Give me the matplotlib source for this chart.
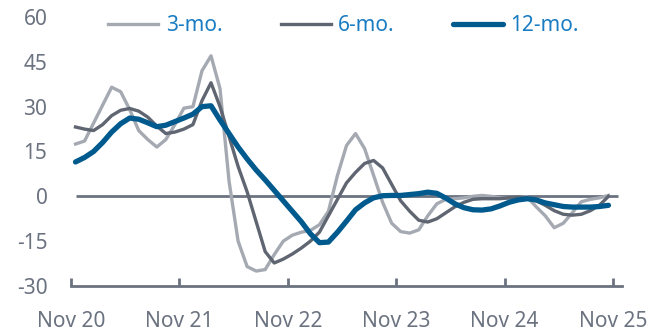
import numpy as np
import matplotlib
matplotlib.use("Agg")
import matplotlib.pyplot as plt

plt.rcParams['font.family'] = ['Noto Sans', 'DejaVu Sans']
plt.rcParams['axes.unicode_minus'] = False

# monthly readings, Dec 20 .. Nov 25
mo3 = [17.5, 18.5, 24.5, 30.5, 36.5, 35.0, 29.0, 22.0, 19.0, 16.5,
       19.0, 24.0, 29.5, 30.0, 42.0, 47.0, 36.0, 5.0, -15.0, -23.5,
       -25.0, -24.5, -19.5, -15.0, -13.0, -12.0, -11.4, -9.5, -5.0, 7.0,
       17.0, 21.0, 16.0, 7.0, -2.0, -9.0, -11.8, -12.3, -11.2, -6.5,
       -2.5, -1.0, -0.8, -0.5, 0.0, 0.3, 0.0, -0.5, -0.7, -0.5,
       -0.2, -3.5, -6.5, -10.5, -9.0, -5.5, -1.8, -1.0, -0.5, 0.3]
mo6 = [23.2, 22.5, 22.0, 24.0, 27.0, 28.8, 29.4, 28.5, 26.5, 23.5,
       21.0, 21.5, 22.5, 24.0, 32.0, 38.0, 30.0, 20.0, 10.0, 1.5,
       -8.5, -18.5, -22.3, -21.0, -19.3, -17.3, -15.0, -12.0, -6.5, -1.0,
       4.5, 8.0, 11.0, 12.0, 9.5, 4.0, -1.5, -5.0, -8.0, -8.6,
       -7.5, -5.5, -3.5, -2.0, -1.0, -0.8, -0.8, -0.8, -0.5, -0.3,
       -0.6, -1.5, -3.0, -4.8, -6.0, -6.3, -6.0, -4.8, -3.0, 0.0]
mo12 = [11.5, 13.0, 15.0, 18.0, 21.5, 24.3, 26.2, 25.8, 24.6, 23.3,
        23.8, 25.0, 26.2, 27.5, 30.0, 30.3, 25.5, 21.0, 16.5, 12.5,
        8.8, 5.5, 2.0, -1.5, -5.0, -8.5, -12.5, -15.5, -15.3, -12.0,
        -8.3, -4.5, -2.2, -0.5, 0.2, 0.3, 0.3, 0.6, 0.9, 1.4,
        1.0, -0.6, -2.5, -3.8, -4.5, -4.6, -4.2, -3.2, -2.0, -1.2,
        -0.8, -1.2, -2.2, -2.8, -3.4, -3.6, -3.6, -3.6, -3.4, -3.0]
xlabels = ['Nov 20', 'Nov 21', 'Nov 22', 'Nov 23', 'Nov 24', 'Nov 25']
yticks = [-30, -15, 0, 15, 30, 45, 60]

grey = '#6b7280'
x = np.arange(len(mo3)) + 0.5

fig = plt.figure(figsize=(6.69, 3.35), dpi=100)
ax = fig.add_axes([71 / 669, 49 / 335, 551 / 669, 269 / 335])

ax.hlines(0, 0.5, 60.6, color=grey, lw=2, zorder=1)
ax.plot(x, mo3, color='#a4a9b2', lw=2.4, label='3-mo.', zorder=2)
ax.plot(x, mo6, color='#5f6571', lw=2.4, label='6-mo.', zorder=3)
ax.plot(x, mo12, color='#005a8e', lw=3.8, label='12-mo.', zorder=4,
        solid_capstyle='round')

ax.set_xlim(0, 61)
ax.set_ylim(-30, 60)
ax.set_yticks(yticks)
ax.set_xticks(np.arange(0, 61, 12))
ax.set_xticklabels(xlabels)

for s in ['left', 'right', 'top']:
    ax.spines[s].set_visible(False)
ax.spines['bottom'].set_color(grey)
ax.spines['bottom'].set_linewidth(2)
ax.tick_params(axis='y', length=0, pad=17, labelsize=15, labelcolor=grey)
ax.tick_params(axis='x', direction='in', length=6, width=2, color=grey,
               pad=18, labelsize=15, labelcolor=grey)

leg = ax.legend(loc='center left', bbox_to_anchor=(0.068, 0.967), ncol=3,
                frameon=False, fontsize=15, handlelength=2.4,
                handletextpad=0.35, columnspacing=2.8,
                borderaxespad=0, borderpad=0)
for t in leg.get_texts():
    t.set_color('#1a7cc2')

fig.savefig('out.png', dpi=100)
